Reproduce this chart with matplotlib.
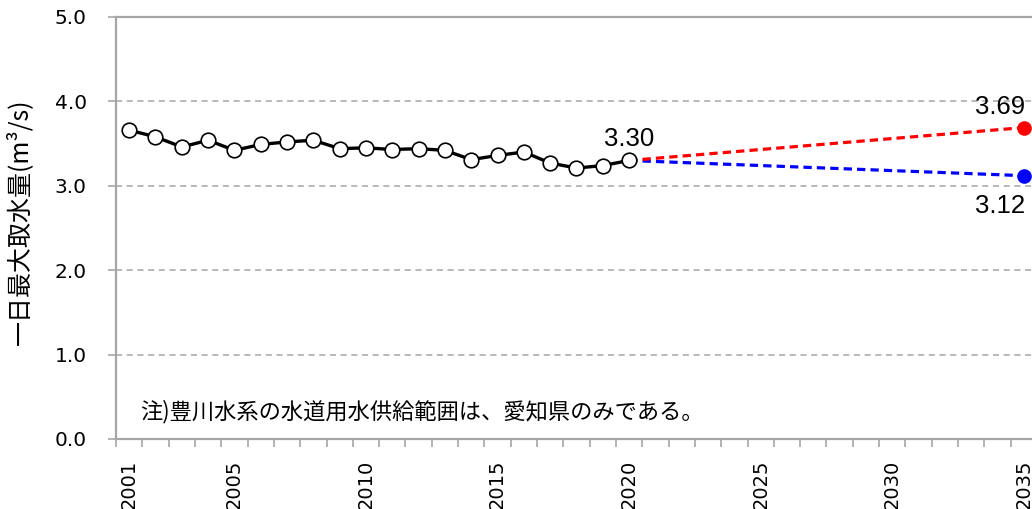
import numpy as np
import matplotlib
matplotlib.use("Agg")
import matplotlib.pyplot as plt
from matplotlib.ticker import FixedLocator, MultipleLocator

plt.rcParams["font.family"] = ["DejaVu Sans", "Noto Sans CJK JP"]

# observed daily max intake, 2001-2020
years = np.arange(2001, 2021)
intake = [3.66, 3.58, 3.46, 3.54, 3.42, 3.49, 3.52, 3.54, 3.44, 3.45,
          3.43, 3.44, 3.42, 3.31, 3.36, 3.40, 3.27, 3.21, 3.24, 3.30]

# projection to 2035: high / low case
proj_years = [2020, 2035]
proj_high = [3.30, 3.69]
proj_low = [3.30, 3.12]

year_labels = [2001, 2005, 2010, 2015, 2020, 2025, 2030, 2035]
y_ticks = [0.0, 1.0, 2.0, 3.0, 4.0, 5.0]

note = "注)豊川水系の水道用水供給範囲は、愛知県のみである。"
ylabel = "一日最大取水量(m³/s)"

W, H = 1032, 509
fig = plt.figure(figsize=(W / 100, H / 100), dpi=100)
# plot area runs a little past the right edge of the figure
left, right, top, bottom = 116, 1037, 17, 439
ax = fig.add_axes([left / W, 1 - bottom / H, (right - left) / W, (bottom - top) / H])

grey = "#a6a6a6"
for v in y_ticks[1:-1]:
    ax.axhline(v, color=grey, lw=1.1, ls=(0, (4, 3)), zorder=1)

ax.plot(proj_years, proj_low, color="#0000ff", lw=2.3, ls=(0, (2.6, 1.6)), zorder=2)
ax.plot(proj_years, proj_high, color="#ff0000", lw=2.3, ls=(0, (2.6, 1.6)), zorder=2)
ax.plot(proj_years[1], proj_high[1], "o", color="#ff0000", ms=9.5, zorder=4)
ax.plot(proj_years[1], proj_low[1], "o", color="#0000ff", ms=9.5, zorder=4)

ax.plot(years, intake, color="black", lw=2.4, marker="o", ms=10.5,
        mfc="white", mec="black", mew=1.2, zorder=3)

lab_font = dict(family="Liberation Sans", fontsize=18.5)
ax.annotate(f"{intake[-1]:.2f}", (years[-1], intake[-1]), xytext=(0, 21),
            textcoords="offset pixels", ha="center", va="center", **lab_font)
ax.annotate(f"{proj_high[1]:.2f}", (proj_years[1], proj_high[1]), xytext=(1, 21),
            textcoords="offset pixels", ha="right", va="center", **lab_font)
ax.annotate(f"{proj_low[1]:.2f}", (proj_years[1], proj_low[1]), xytext=(1, -30),
            textcoords="offset pixels", ha="right", va="center", **lab_font)

ax.text(2001.4, 0.32, note, fontsize=16, family=["Noto Sans CJK JP", "DejaVu Sans"],
        ha="left", va="center")

ax.set_xlim(2000.5, 2035.5)
ax.set_ylim(0, 5.0)

ax.yaxis.set_major_locator(FixedLocator(y_ticks))
ax.set_yticklabels([f"{v:.1f}" for v in y_ticks])
ax.xaxis.set_major_locator(FixedLocator(year_labels))
ax.set_xticklabels([str(y) for y in year_labels], rotation=90, va="top")
ax.xaxis.set_minor_locator(MultipleLocator(1, offset=0.5))

ax.tick_params(axis="y", length=6, width=1.2, color=grey, labelsize=14.5, pad=15)
ax.tick_params(axis="x", which="major", length=0, labelsize=14, pad=15)
ax.tick_params(axis="x", which="minor", length=6, width=1.2, color=grey)

for side in ["left", "bottom", "top"]:
    ax.spines[side].set_color(grey)
    ax.spines[side].set_linewidth(1.6)
ax.spines["right"].set_visible(False)

ax.set_ylabel(ylabel, fontsize=18, family=["Noto Sans CJK JP", "DejaVu Sans"])
ax.yaxis.set_label_coords(-0.090, 0.514)

fig.savefig("out.png", dpi=100)
